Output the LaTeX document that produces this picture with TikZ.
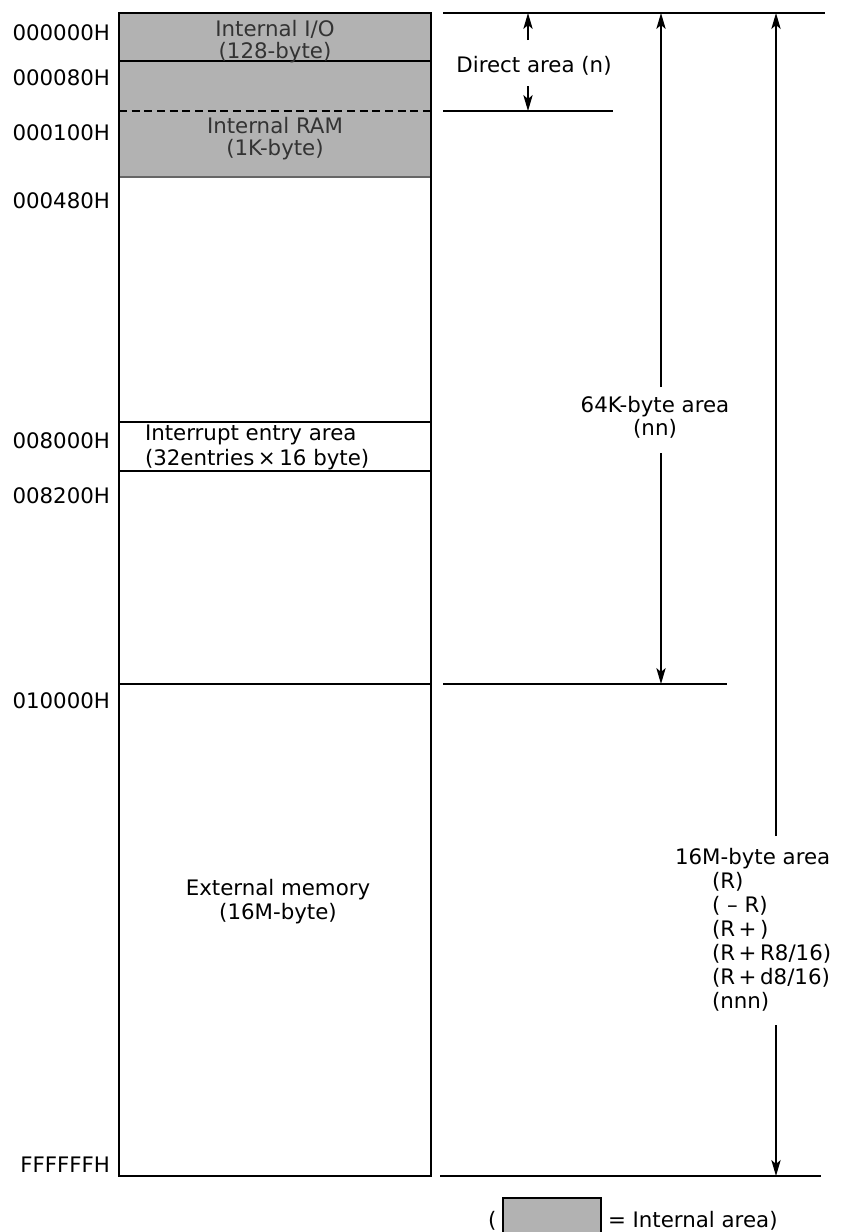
\documentclass[tikz,border=0pt]{standalone}
\usepackage{fontspec}
\setmainfont{DejaVu Sans}
\usetikzlibrary{arrows.meta}
\begin{document}
\begin{tikzpicture}[x=0.75pt,y=-0.75pt,
  every node/.style={inner sep=0pt, outer sep=0pt, font=\fontsize{16pt}{18pt}\selectfont},
  lbl/.style={anchor=base east},
  txt/.style={anchor=base},
  ltxt/.style={anchor=base west},
  intxt/.style={anchor=base, text=black!80},
  memline/.style={line width=1.4pt},
  rule/.style={line width=1.4pt},
  arr/.style={line width=1.1pt, -{Stealth[length=12pt,width=7pt,inset=3pt]}},
  shade/.style={fill=black!30}]
\useasboundingbox (0,0) rectangle (842,1232);

% shaded internal area
\fill[shade] (119,13) rectangle (431,177);
\draw[black!60, line width=0.8pt] (119,177) -- (431,177);
% memory map box
\draw[memline] (119,13) rectangle (431,1176);
\draw[memline] (119,61) -- (431,61);
\draw[line width=1pt, dash pattern=on 6pt off 3.5pt] (119,111) -- (431,111);
\draw[memline] (119,422) -- (431,422);
\draw[memline] (119,471) -- (431,471);
\draw[memline] (119,684) -- (431,684);

% address labels
\node[lbl] (a0) at (110,40) {000000H};
\node[lbl] (a1) at (110,85) {000080H};
\node[lbl] (a2) at (110,140) {000100H};
\node[lbl] (a3) at (110,208) {000480H};
\node[lbl] (a4) at (110,448) {008000H};
\node[lbl] (a5) at (110,503) {008200H};
\node[lbl] (a6) at (110,708) {010000H};
\node[lbl] (a7) at (110,1172) {FFFFFFH};

% area texts
\node[intxt] (io1) at (275,36) {Internal I/O};
\node[intxt] (io2) at (275,58) {(128-byte)};
\node[intxt] (ram1) at (275,133) {Internal RAM};
\node[intxt] (ram2) at (275,155) {(1K-byte)};
\node[ltxt] (int1) at (145,440) {Interrupt entry area};
\node[ltxt] (int2) at (145,465) {(32entries\,×\,16 byte)};
\node[txt] (ext1) at (278,895) {External memory};
\node[txt] (ext2) at (278,919) {(16M-byte)};

% right-side rules
\coordinate (r0a) at (443,13);   \coordinate (r0b) at (825,13);
\coordinate (r1a) at (443,111);  \coordinate (r1b) at (613,111);
\coordinate (r2a) at (443,684);  \coordinate (r2b) at (727,684);
\coordinate (r3a) at (440,1176); \coordinate (r3b) at (821,1176);
\draw[rule] (r0a) -- (r0b);
\draw[rule] (r1a) -- (r1b);
\draw[rule] (r2a) -- (r2b);
\draw[rule] (r3a) -- (r3b);

% direct area
\node[txt] (dir) at (534,72) {Direct area (n)};
\coordinate (d1) at (528,40);  \coordinate (d1t) at (528,13);
\coordinate (d2) at (528,86);  \coordinate (d2t) at (528,111);
\draw[arr] (d1) -- (d1t);
\draw[arr] (d2) -- (d2t);

% 64K area
\node[txt] (k1) at (655,412) {64K-byte area};
\node[txt] (k2) at (655,435) {(nn)};
\coordinate (k1s) at (661,387); \coordinate (k1t) at (661,13);
\coordinate (k2s) at (661,453); \coordinate (k2t) at (661,684);
\draw[arr] (k1s) -- (k1t);
\draw[arr] (k2s) -- (k2t);

% 16M area
\node[ltxt] (m0) at (675,864) {16M-byte area};
\node[ltxt] (m1) at (712,888) {(R)};
\node[ltxt] (m2) at (712,912) {( – R)};
\node[ltxt] (m3) at (712,936) {(R\,+\,)};
\node[ltxt] (m4) at (712,960) {(R\,+\,R8/16)};
\node[ltxt] (m5) at (712,984) {(R\,+\,d8/16)};
\node[ltxt] (m6) at (712,1008) {(nnn)};
\coordinate (m1s) at (776,836);  \coordinate (m1t) at (776,13);
\coordinate (m2s) at (776,1025); \coordinate (m2t) at (776,1176);
\draw[arr] (m1s) -- (m1t);
\draw[arr] (m2s) -- (m2t);

% legend
\node[ltxt] (lp) at (488,1227) {(};
\fill[shade] (503,1198) rectangle (601,1240);
\draw[line width=1.4pt] (503,1240) -- (503,1198) -- (601,1198) -- (601,1240);
\node[ltxt] (leg) at (608,1227) {= Internal area)};
\end{tikzpicture}
\end{document}
